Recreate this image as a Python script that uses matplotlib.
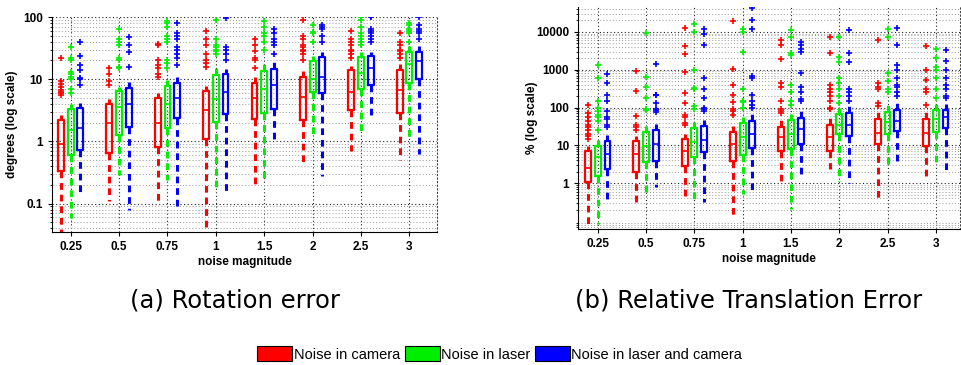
import numpy as np
import matplotlib.pyplot as plt
from matplotlib.patches import Patch
from matplotlib.ticker import LogLocator, NullFormatter

plt.rcParams['font.family'] = ['Liberation Sans', 'DejaVu Sans']

noise = ['0.25', '0.5', '0.75', '1', '1.5', '2', '2.5', '3']
series = ['Noise in camera', 'Noise in laser', 'Noise in laser and camera']
colors = ['#ff0000', '#00ee00', '#0000ff']

# rotation error (degrees): per series, per noise level
# [whisker low, q1, median, q3, whisker high]
rot_cam = [[0.03, 0.33, 0.92, 2.2, 2.7], [0.11, 0.66, 2.0, 3.95, 4.75],
           [0.11, 0.81, 1.95, 4.9, 5.95], [0.03, 1.1, 3.2, 6.5, 7.8],
           [0.18, 2.3, 4.9, 8.8, 11], [0.43, 2.18, 5.25, 11, 13.6],
           [0.7, 3.2, 6.25, 14, 16.4], [0.51, 2.9, 6.7, 14, 17.5]]
rot_las = [[0.059, 0.6, 1.52, 3.3, 4.0], [0.29, 1.25, 3.6, 6.5, 7.6],
           [0.24, 1.66, 4.05, 7.8, 9.8], [0.18, 2.07, 4.75, 11.7, 15.4],
           [0.26, 2.9, 6.9, 13.6, 17.5], [1.25, 6.25, 10, 19.7, 23.8],
           [1.38, 6.9, 12.5, 22.4, 27.5], [1.08, 8.8, 17.5, 26.9, 34.6]]
rot_both = [[0.145, 0.72, 1.62, 3.5, 4.2], [0.08, 1.72, 3.95, 7.35, 8.9],
            [0.09, 2.35, 4.9, 8.6, 11], [0.15, 2.8, 6.25, 12, 14.8],
            [1.0, 3.36, 8.1, 14.5, 18.6], [0.28, 5.95, 11, 22.4, 27.5],
            [2.65, 8.0, 15, 23.8, 27.5], [0.62, 10.2, 19.8, 27.5, 34.6]]
rot_cam_out = [[5.5, 6, 6.3, 6.8, 7.5, 8.5, 9.5, 22], [8, 9.5, 12, 15],
               [11, 12, 15, 17, 20, 35, 37], [16, 18, 20, 25, 35, 45, 60],
               [15, 20, 22, 28, 35, 45], [20, 25, 28, 30, 33, 35, 45, 50, 90],
               [22, 25, 28, 30, 35, 40, 45, 60], [22, 25, 28, 30, 35, 40, 55]]
rot_las_out = [[6, 7, 10, 11, 12, 13, 20, 22, 33], [15, 16, 20, 22, 35, 40, 45, 65],
               [15, 18, 20, 40, 45, 50, 70, 80, 85], [25, 28, 30, 33, 35, 45, 90],
               [30, 40, 50, 55, 70, 85], [40, 55, 58, 75],
               [35, 40, 45, 50, 55, 70, 90, 100], [40, 55, 60, 65, 75, 80]]
rot_both_out = [[8, 10, 10.5, 14, 17, 24, 40], [16, 27, 35, 47],
                [17, 22, 25, 30, 33, 45, 50, 55, 80], [20, 25, 30, 33, 95],
                [25, 35, 40, 45, 55, 65], [40, 50, 65, 70, 75],
                [40, 45, 50, 55, 60, 65, 100, 105], [45, 55, 60, 65, 75, 100]]

# relative translation error (%)
tr_cam = [[0.05, 1.06, 2.6, 7.2, 9.7], [0.29, 1.94, 5.9, 12.9, 17.8],
          [0.45, 2.9, 7.2, 15.2, 20.5], [0.14, 3.9, 10.8, 22.7, 32],
          [1.1, 7.2, 16.8, 30.7, 46], [2.33, 7.2, 16.8, 35.3, 54],
          [0.4, 10.8, 21.8, 51, 76], [1.35, 9.5, 21.8, 51, 76]]
tr_las = [[0.086, 1.59, 5.0, 9.7, 13.7], [0.57, 3.7, 9.7, 22.7, 32],
          [0.33, 5.0, 12.4, 29.5, 41], [0.52, 5.5, 16.8, 39, 56],
          [0.21, 8.0, 20.5, 48, 68], [1.17, 19.7, 34, 66, 99],
          [2.7, 20.5, 41.5, 76, 125], [2.7, 22.7, 51, 84, 125]]
tr_both = [[0.34, 2.33, 5.8, 13.2, 18.6], [0.78, 3.9, 10.8, 26, 37.5],
           [0.33, 6.8, 14.3, 32, 46], [0.57, 8.3, 19.7, 44, 66],
           [1.6, 11.2, 27.8, 54, 80], [1.0, 17.5, 34, 73, 108],
           [3.0, 24, 44, 87, 140], [2.0, 28, 56, 84, 125]]
tr_cam_out = [[15, 18, 20, 25, 30, 35, 45, 55, 70, 120], [25, 30, 35, 60, 280, 900],
              [35, 40, 55, 65, 130, 240, 850, 2600, 4300, 12500],
              [65, 80, 90, 140, 210, 400, 1050, 19500],
              [70, 80, 90, 150, 350, 450, 1900, 4500, 6000],
              [90, 100, 150, 200, 250, 300, 400, 2800, 7500],
              [110, 130, 300, 350, 450, 6000], [120, 250, 300, 550, 1000, 4200]]
tr_las_out = [[25, 45, 55, 65, 80, 100, 150, 600, 1300], [85, 90, 180, 350, 650, 9500],
              [90, 110, 300, 320, 1000, 10000, 16000],
              [95, 100, 140, 150, 300, 2900, 10000, 12000],
              [120, 150, 250, 400, 2500, 2800, 7500, 11000],
              [130, 200, 300, 450, 600, 1600, 2200, 7500],
              [250, 300, 500, 800, 7500, 12000], [180, 300, 600, 1000, 1200, 2000, 3500]]
tr_both_out = [[30, 35, 50, 55, 80, 150, 210, 450, 780], [75, 85, 90, 130, 210, 220, 1400],
               [80, 90, 100, 180, 300, 600, 4500, 9000, 12000],
               [100, 120, 150, 220, 600, 700, 12000, 20000, 43000],
               [150, 170, 250, 350, 800, 3000, 3500, 4500, 5500],
               [150, 200, 250, 300, 1600, 2800, 11500],
               [200, 250, 350, 400, 600, 1000, 1300, 4500, 13000],
               [180, 200, 300, 400, 600, 1000, 1700, 3300]]


def make_stats(boxes, outliers):
    out = []
    for b, f in zip(boxes, outliers):
        out.append(dict(whislo=b[0], q1=b[1], med=b[2], q3=b[3], whishi=b[4], fliers=f))
    return out


def draw_panel(ax, groups, ylabel, ylim, yticks, ylabels, xlim, label_x):
    x = np.arange(1, len(noise) + 1)
    for k, (boxes, outs) in enumerate(groups):
        c = colors[k]
        ax.bxp(make_stats(boxes, outs), positions=x + (k - 1) * 0.2, widths=0.12,
               showcaps=False, manage_ticks=False,
               boxprops=dict(color=c, lw=1.6),
               medianprops=dict(color=c, lw=1.2),
               whiskerprops=dict(color=c, lw=2.2, ls=(0, (2.2, 1.6))),
               flierprops=dict(marker='+', markeredgecolor=c, markersize=5, mew=1.2))
    ax.set_yscale('log')
    ax.set_ylim(*ylim)
    ax.set_xlim(*xlim)
    ax.set_xticks(x)
    ax.set_xticklabels(noise, fontsize=8.5, fontweight='bold')
    ax.set_yticks(yticks)
    ax.set_yticklabels(ylabels, fontsize=8.5, fontweight='bold')
    ax.yaxis.set_minor_locator(LogLocator(base=10, subs=np.arange(2, 10), numticks=20))
    ax.yaxis.set_minor_formatter(NullFormatter())
    ax.tick_params(which='major', length=3, width=0.8, direction='out')
    ax.tick_params(which='minor', length=1.8, width=0.6, direction='out')
    ax.grid(True, which='major', axis='both', ls=(0, (1, 2.2)), color='#222222', lw=0.8)
    ax.grid(True, which='minor', axis='y', ls=(0, (1, 2.2)), color='#999999', lw=0.7)
    ax.set_axisbelow(True)
    ax.spines['top'].set_visible(False)
    ax.spines['right'].set_linestyle((0, (1, 2.2)))
    ax.spines['right'].set_color('#444444')
    ax.spines['right'].set_linewidth(0.8)
    ax.set_xlabel('noise magnitude', fontsize=8.5, fontweight='bold', labelpad=2)
    ax.set_ylabel(ylabel, fontsize=8.5, fontweight='bold')
    ax.yaxis.set_label_coords(label_x, 0.5)


fig = plt.figure(figsize=(9.61, 3.65), dpi=100)
ax1 = fig.add_axes([0.0541, 0.3644, 0.4006, 0.589])
ax2 = fig.add_axes([0.6015, 0.3726, 0.3975, 0.608])

draw_panel(ax1, [(rot_cam, rot_cam_out), (rot_las, rot_las_out), (rot_both, rot_both_out)],
           'degrees (log scale)', (0.035, 100), [0.1, 1, 10, 100],
           ['0.1', '1', '10', '100'], (0.614, 8.57), -0.088)
draw_panel(ax2, [(tr_cam, tr_cam_out), (tr_las, tr_las_out), (tr_both, tr_both_out)],
           '% (log scale)', (0.062, 45000), [1, 10, 100, 1000, 10000],
           ['1', '10', '100', '1000', '10000'], (0.592, 8.5), -0.105)

fig.text(0.245, 0.178, '(a) Rotation error', fontsize=17.5, family='DejaVu Sans',
         ha='center', va='center')
fig.text(0.779, 0.178, '(b) Relative Translation Error', fontsize=17.5, family='DejaVu Sans',
         ha='center', va='center')

handles = [Patch(facecolor=c, edgecolor='black', lw=0.8) for c in colors]
fig.legend(handles, series, loc='center', bbox_to_anchor=(0.52, 0.03), ncol=3,
           frameon=False, fontsize=10.5, handlelength=2.4, handleheight=1.2,
           handletextpad=0.1, columnspacing=0.3, borderaxespad=0)

fig.savefig('out.png', dpi=100)
